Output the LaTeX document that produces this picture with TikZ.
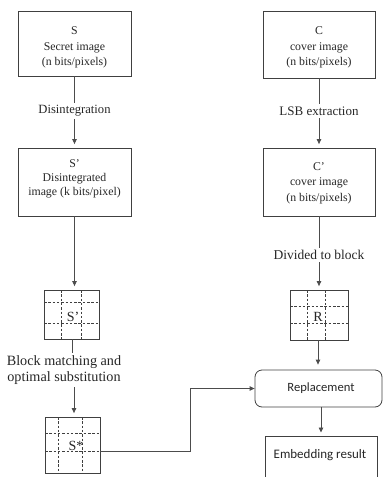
\documentclass[tikz,border=0pt]{standalone}
\usepackage{fontspec}
\setmainfont{Liberation Serif}
\newfontfamily\calfont{Carlito}
\usetikzlibrary{arrows.meta}
\begin{document}
\begin{tikzpicture}[x=1pt,y=-1pt,
  box/.style={draw=black!75,line width=0.8pt,rectangle,inner sep=0pt},
  boxtext/.style={align=center,font=\fontsize{11.8}{15.5}\selectfont,inner sep=0pt,text=black!85},
  steplabel/.style={align=center,inner sep=2.5pt,text=black!85},
  blockgrid/.style={draw=black!75,line width=0.8pt,rectangle,inner sep=0pt},
  gridline/.style={draw=black!75,line width=0.7pt,dash pattern=on 2.5pt off 1.8pt},
  conn/.style={draw=black!70,line width=0.8pt},
  arr/.style={conn,-{Triangle[length=5pt,width=4.5pt]},shorten >=3.5pt},
  gridtext/.style={font=\fontsize{14}{16}\selectfont,inner sep=0pt,text=black!85}]
\useasboundingbox (0,0) rectangle (383,477);

% ---- left column: secret image ----
\node[box,minimum width=113pt,minimum height=65pt] (s) at (74.5,43.5) {};
\node[boxtext] (stext) at (74.5,47.5) {S\\Secret image\\(n bits/pixels)};
\node[steplabel,font=\fontsize{12.6}{15}\selectfont] (dis) at (74.5,111) {Disintegration};
\node[box,minimum width=113pt,minimum height=68pt] (sp) at (74.5,182) {};
\node[boxtext,font=\fontsize{11.8}{14}\selectfont] (sptext) at (74.5,179) {S'\\Disintegrated\\image (k bits/pixel)};

\draw[conn] (s.south) -- (dis.north);
\draw[arr] (dis.south) -- (sp.north);

% block grid S'
\node[blockgrid,minimum width=55pt,minimum height=49pt] (spg) at (71.5,314.5) {};
\draw[gridline] (44,302) -- (99,302) (44,323) -- (99,323)
                (61,290) -- (61,339) (81,290) -- (81,339);
\node[gridtext] (spgt) at (73,317) {S'};
\draw[arr] (sp.south) -- (sp.south |- spg.north);

\node[steplabel,font=\fontsize{14.2}{16}\selectfont] (bm) at (64,370) {Block matching and\\optimal substitution};
\draw[conn] (spg.south -| 72,0) -- (bm.north -| 72,0);

% block grid S*
\node[blockgrid,minimum width=55pt,minimum height=56pt] (sst) at (72.5,445) {};
\draw[gridline] (45,433) -- (100,433) (45,451) -- (100,451)
                (58,417) -- (58,473) (82,417) -- (82,473);
\node[gridtext] (sstt) at (76,446) {S*};
\draw[arr] (bm.south -| 74,0) -- (sst.north -| 74,0);

% ---- right column: cover image ----
\node[box,minimum width=112pt,minimum height=67pt] (c) at (319,44.5) {};
\node[boxtext] (ctext) at (319,47.5) {C\\cover image\\(n bits/pixels)};
\node[steplabel,font=\fontsize{13}{15}\selectfont] (lsb) at (319,111) {LSB extraction};
\node[box,minimum width=112pt,minimum height=68pt] (cp) at (319,182) {};
\node[boxtext] (cptext) at (319,183) {C'\\cover image\\(n bits/pixels)};

\draw[conn] (c.south) -- (lsb.north);
\draw[arr] (lsb.south) -- (cp.north);

\node[steplabel,font=\fontsize{13.5}{15}\selectfont] (div) at (319,255) {Divided to block};
\draw[conn] (cp.south) -- (div.north);

% block grid R
\node[blockgrid,minimum width=58pt,minimum height=50pt] (rg) at (319,315) {};
\draw[gridline] (290,306) -- (348,306) (290,323) -- (348,323)
                (307,290) -- (307,340) (325,290) -- (325,340);
\node[gridtext] (rgt) at (318,317) {R};
\draw[arr] (div.south) -- (rg.north);

% replacement and result
\node[box,rounded corners=7pt,minimum width=127pt,minimum height=37pt,
      font=\calfont\fontsize{12.6}{15}\selectfont,text=black!85] (rep) at (318.5,388.5) {\hspace*{5pt}Replacement};
\node[box,minimum width=112pt,minimum height=44pt,anchor=north] (emb) at (321,436) {};
\node[font=\calfont\fontsize{13}{15}\selectfont,inner sep=0pt,text=black!85] (embt) at (320,455) {Embedding result};

\draw[arr,shorten >=5pt] (rg.south -| 318,0) -- (rep.north -| 318,0);
\draw[arr] (rep.south -| 321,0) -- (emb.north -| 321,0);

\coordinate (sout) at (100,451);
\coordinate (bend) at (190,451);
\draw[arr,shorten >=0pt] (sout) -- (bend) |- (rep.west);
\end{tikzpicture}
\end{document}
